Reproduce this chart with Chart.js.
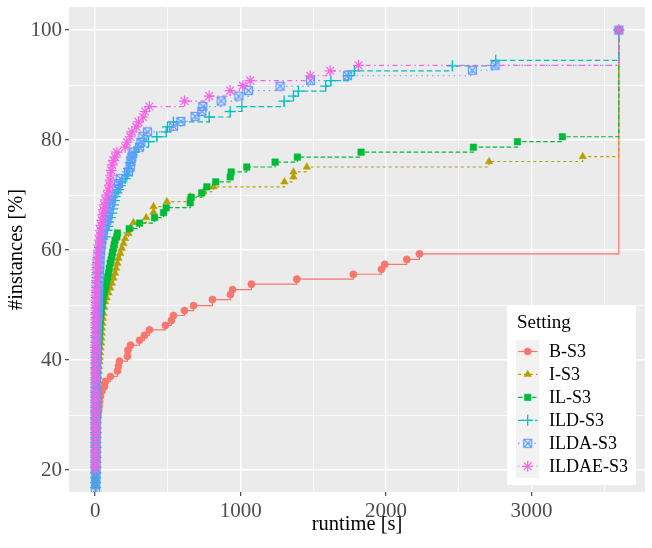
<!DOCTYPE html>
<html>
<head>
<meta charset="utf-8">
<script src="https://cdn.jsdelivr.net/npm/chart.js@4/dist/chart.umd.min.js"></script>
<style>
  html, body { margin: 0; padding: 0; background: #fff; }
  #chart { display: block; }
</style>
</head>
<body>
<canvas id="chart" width="652" height="548"></canvas>
<script>
// runtime [s], share of instances solved [%]
const settings = ['B-S3', 'I-S3', 'IL-S3', 'ILD-S3', 'ILDA-S3', 'ILDAE-S3'];

const bS3 = [
    [2, 23.6], [5, 24.5], [6, 25.4], [8, 26.3], [10, 27.2], [12, 28.1], [15, 29.0], [19, 29.9],
    [24, 30.8], [27, 31.6], [30, 32.5], [36, 33.4], [46, 34.3], [64, 35.2], [71, 36.1], [105, 37.0],
    [153, 38.0], [160, 38.9], [167, 39.8], [222, 40.7], [225, 41.8], [243, 42.7], [305, 43.6],
    [339, 44.5], [373, 45.5], [483, 46.3], [524, 47.2], [538, 48.1], [614, 49.0], [676, 49.9],
    [806, 51.0], [930, 51.9], [944, 52.8], [1074, 53.8], [1386, 54.7], [1775, 55.6], [1968, 56.5],
    [1991, 57.4], [2142, 58.3], [2229, 59.3], [3600, 100]
];

const iS3 = [
    [3, 18.2], [5, 19.0], [8, 19.9], [11, 20.8], [13, 21.7], [15, 22.6], [16, 23.5], [17, 24.4],
    [17, 25.3], [18, 26.2], [18, 27.1], [18, 28.0], [18, 28.9], [18, 29.8], [18, 30.7], [18, 31.6],
    [18, 32.5], [19, 33.4], [20, 34.3], [21, 35.2], [22, 36.1], [23, 37.0], [25, 37.9], [27, 38.8],
    [29, 39.7], [31, 40.5], [34, 41.3], [37, 42.2], [41, 43.1], [43, 44.0], [45, 44.9], [46, 45.8],
    [50, 46.7], [54, 47.6], [57, 48.5], [63, 49.6], [69, 50.6], [80, 51.3], [92, 52.2], [104, 53.1],
    [115, 54.0], [126, 54.9], [137, 55.8], [144, 56.7], [153, 57.6], [160, 58.5], [172, 59.4],
    [183, 60.3], [195, 61.2], [206, 62.1], [229, 63.0], [241, 63.9], [263, 65.0], [351, 65.9],
    [401, 66.9], [401, 67.9], [493, 68.8], [653, 69.7], [744, 70.6], [813, 71.5], [1301, 72.4],
    [1363, 73.3], [1363, 74.2], [1455, 75.1], [2708, 76.1], [3352, 77.0], [3600, 100]
];

const ilS3 = [
    [1, 17.3], [2, 18.2], [3, 19.1], [3, 20.0], [4, 20.9], [4, 21.8], [5, 22.7], [5, 23.6],
    [5, 24.5], [5, 25.5], [5, 26.4], [5, 27.3], [5, 28.2], [5, 29.1], [6, 30.0], [8, 30.9],
    [10, 31.8], [11, 32.7], [11, 33.6], [11, 34.5], [11, 35.5], [11, 36.4], [11, 37.3], [12, 38.2],
    [14, 39.1], [16, 40.0], [18, 40.9], [20, 41.8], [23, 42.7], [25, 43.6], [27, 44.5], [30, 45.5],
    [32, 46.4], [34, 47.3], [38, 48.2], [42, 49.1], [46, 49.9], [51, 50.8], [57, 51.6], [63, 52.4],
    [69, 53.1], [75, 53.7], [80, 54.4], [86, 55.1], [92, 55.8], [97, 56.7], [103, 57.6], [109, 58.2],
    [115, 58.9], [120, 59.6], [126, 60.3], [131, 61.0], [137, 61.8], [149, 62.4], [153, 63.1],
    [234, 63.9], [305, 64.9], [408, 65.9], [470, 66.8], [488, 67.7], [653, 68.6], [660, 69.6],
    [733, 70.4], [768, 71.5], [829, 72.4], [928, 73.3], [935, 74.2], [1042, 75.1], [1237, 76.0],
    [1390, 76.9], [1828, 77.8], [2600, 78.7], [2903, 79.7], [3212, 80.6], [3600, 100]
];

const ildS3 = [
    [3, 16.8], [3, 17.7], [4, 18.6], [4, 19.5], [4, 20.5], [4, 21.4], [4, 22.3], [4, 23.2],
    [4, 24.1], [4, 25.0], [4, 25.9], [4, 26.8], [4, 27.7], [4, 28.6], [4, 29.5], [4, 30.5],
    [5, 31.4], [5, 32.3], [5, 33.2], [5, 34.1], [5, 35.0], [5, 35.9], [5, 36.8], [5, 37.7],
    [5, 38.6], [5, 39.5], [5, 40.5], [5, 41.4], [5, 42.3], [6, 43.2], [6, 44.1], [6, 45.0],
    [6, 45.9], [6, 46.8], [6, 47.7], [7, 48.6], [7, 49.5], [8, 50.5], [8, 51.4], [9, 52.3],
    [10, 53.2], [11, 54.1], [12, 55.0], [14, 55.9], [15, 56.8], [17, 57.7], [20, 58.6], [23, 59.5],
    [30, 60.5], [40, 61.4], [52, 62.0], [69, 62.4], [80, 63.6], [86, 64.3], [92, 65.1], [103, 65.9],
    [115, 66.7], [120, 67.5], [126, 68.2], [132, 69.0], [137, 69.7], [149, 70.4], [160, 71.0],
    [172, 71.7], [183, 72.4], [206, 73.0], [218, 73.6], [224, 74.2], [229, 74.8], [240, 75.9],
    [252, 76.9], [268, 77.8], [298, 78.7], [367, 79.7], [424, 80.6], [488, 81.5], [497, 82.4],
    [538, 83.3], [784, 84.2], [928, 85.2], [1008, 86.1], [1299, 87.1], [1363, 88.0], [1397, 88.9],
    [1585, 89.8], [1620, 90.8], [1740, 91.7], [1782, 92.6], [2456, 93.5], [2754, 94.5], [3600, 100]
];

const ildaS3 = [
    [3, 16.4], [3, 17.3], [4, 18.2], [4, 19.1], [4, 20.0], [4, 20.9], [4, 21.8], [4, 22.7],
    [4, 23.6], [4, 24.5], [4, 25.5], [4, 26.4], [5, 27.3], [5, 28.2], [5, 29.1], [5, 30.0],
    [5, 30.9], [5, 31.8], [5, 32.7], [5, 33.6], [5, 34.5], [5, 35.5], [6, 36.4], [6, 37.3],
    [6, 38.2], [7, 39.1], [7, 40.0], [8, 40.9], [9, 41.8], [10, 42.7], [11, 43.6], [12, 44.5],
    [13, 45.5], [15, 46.4], [17, 47.3], [19, 48.2], [20, 49.1], [21, 50.0], [22, 50.9], [23, 51.8],
    [24, 52.7], [25, 53.6], [27, 54.5], [28, 55.5], [30, 56.4], [32, 57.3], [33, 58.2], [34, 59.1],
    [38, 60.0], [42, 60.9], [46, 61.8], [51, 62.7], [57, 63.6], [69, 64.5], [80, 65.4], [86, 66.2],
    [92, 67.0], [98, 67.9], [104, 68.5], [110, 69.1], [115, 70.0], [149, 71.2], [160, 72.1],
    [172, 73.0], [229, 74.2], [241, 75.1], [245, 76.1], [252, 76.9], [259, 77.8], [305, 78.7],
    [314, 79.6], [328, 80.7], [360, 81.5], [538, 82.5], [589, 83.4], [687, 84.3], [733, 85.2],
    [740, 86.1], [866, 87.1], [988, 88.0], [1054, 89.0], [1271, 89.8], [1480, 90.8], [1735, 91.7],
    [2593, 92.7], [2749, 93.6], [3600, 100]
];

const ildaeS3 = [
    [2, 20.0], [2, 20.9], [2, 21.8], [2, 22.7], [2, 23.6], [2, 24.5], [3, 25.5], [3, 26.4],
    [3, 27.3], [3, 28.2], [3, 29.1], [3, 30.0], [3, 30.9], [3, 31.8], [3, 32.7], [3, 33.6],
    [3, 34.5], [3, 35.5], [3, 36.4], [4, 37.3], [4, 38.2], [4, 39.1], [4, 40.0], [4, 40.9],
    [4, 41.8], [4, 42.7], [4, 43.6], [4, 44.5], [5, 45.5], [5, 46.4], [5, 47.3], [5, 48.2],
    [5, 49.1], [6, 50.0], [6, 50.9], [7, 51.8], [7, 52.7], [8, 53.6], [9, 54.5], [10, 55.5],
    [11, 56.4], [12, 57.3], [15, 58.2], [19, 59.1], [23, 60.0], [25, 60.9], [28, 61.8], [31, 62.7],
    [34, 63.6], [40, 64.5], [46, 65.4], [52, 66.4], [57, 67.3], [63, 68.2], [69, 69.1], [80, 70.0],
    [92, 70.9], [98, 71.8], [103, 72.7], [106, 73.6], [110, 74.5], [118, 75.5], [126, 76.3],
    [137, 76.9], [149, 77.8], [206, 78.7], [218, 79.6], [241, 80.6], [252, 81.5], [282, 82.4],
    [298, 83.3], [328, 84.2], [344, 85.2], [373, 86.1], [614, 87.1], [784, 88.0], [928, 89.0],
    [1015, 89.9], [1065, 90.8], [1478, 91.7], [1615, 92.6], [1810, 93.6], [3600, 100]
];

const xMajorTicks = [0, 1000, 2000, 3000];
const xMinorTicks = [500, 1500, 2500, 3500];
const yMajorTicks = [20, 40, 60, 80, 100];
const yMinorTicks = [30, 50, 70, 90];

const series = [bS3, iS3, ilS3, ildS3, ildaS3, ildaeS3];

const serif = 'Liberation Serif';

// square with a cross inside (ggplot shape 7)
const makeBoxCross = color => {
    const c = document.createElement('canvas');
    c.width = 11;
    c.height = 11;
    const g = c.getContext('2d');
    g.strokeStyle = color;
    g.lineWidth = 1.2;
    g.strokeRect(1.5, 1.5, 8, 8);
    g.beginPath();
    g.moveTo(1.5, 1.5);
    g.lineTo(9.5, 9.5);
    g.moveTo(9.5, 1.5);
    g.lineTo(1.5, 9.5);
    g.stroke();
    return c;
};

const styles = [
    { color: '#F8766D', dash: [], shape: 'circle', radius: 3.6, stroke: 0.5 },
    { color: '#B79F00', dash: [3, 3], shape: 'triangle', radius: 4.3, stroke: 0.5 },
    { color: '#00BA38', dash: [4.5, 2.5], shape: 'rect', radius: 4.6, stroke: 0.5 },
    { color: '#00BFC4', dash: [5.5, 3], shape: 'cross', radius: 5.5, stroke: 1.3 },
    { color: '#619CFF', dash: [1.4, 4], shape: makeBoxCross('#619CFF'), radius: 5, stroke: 1.2 },
    { color: '#F564E3', dash: [1.4, 3.5, 5, 3.5], shape: 'star', radius: 5.5, stroke: 1.2 }
];

const toXY = pts => pts.map(([x, y]) => ({ x, y }));

const lineSets = series.map((pts, i) => ({
    label: settings[i],
    data: toXY(pts),
    showLine: true,
    stepped: 'before',
    borderColor: styles[i].color,
    borderWidth: 1.2,
    borderDash: styles[i].dash,
    pointRadius: 0,
    pointHoverRadius: 0,
    order: 20 - i
}));

const pointSets = series.map((pts, i) => ({
    label: settings[i] + ' points',
    data: toXY(pts),
    showLine: false,
    pointStyle: styles[i].shape,
    pointRadius: styles[i].radius,
    pointHoverRadius: styles[i].radius,
    backgroundColor: styles[i].color,
    borderColor: styles[i].color,
    borderWidth: styles[i].stroke,
    order: 10 - i
}));

const panelBackground = {
    id: 'panelBackground',
    beforeDraw: chart => {
        const { ctx, chartArea: a } = chart;
        ctx.save();
        ctx.fillStyle = '#EBEBEB';
        ctx.fillRect(a.left, a.top, a.right - a.left, a.bottom - a.top);
        ctx.restore();
    }
};

const insideLegend = {
    id: 'insideLegend',
    afterDraw: chart => {
        const ctx = chart.ctx;
        ctx.save();
        ctx.fillStyle = '#fff';
        ctx.fillRect(507, 305, 129, 180);
        ctx.fillStyle = '#000';
        ctx.textBaseline = 'middle';
        ctx.font = `19px "${serif}"`;
        ctx.fillText('Setting', 517, 323);
        ctx.fillStyle = '#F2F2F2';
        ctx.fillRect(516, 340, 23.3, 138);
        settings.forEach((name, i) => {
            const st = styles[i];
            const y = 351.5 + i * 22.95;
            ctx.strokeStyle = st.color;
            ctx.lineWidth = 1.2;
            ctx.setLineDash(st.dash);
            ctx.beginPath();
            ctx.moveTo(518, y);
            ctx.lineTo(537.5, y);
            ctx.stroke();
            ctx.setLineDash([]);
            ctx.fillStyle = st.color;
            ctx.lineWidth = st.stroke;
            Chart.helpers.drawPoint(ctx, {
                pointStyle: st.shape, radius: st.radius, rotation: 0, borderWidth: st.stroke
            }, 527.7, y);
            ctx.fillStyle = '#000';
            ctx.font = `18px "${serif}"`;
            ctx.fillText(name, 549, y + 1);
        });
        ctx.restore();
    }
};

const gridOptions = majors => ({
    color: '#fff',
    lineWidth: c => (c.tick && majors.includes(c.tick.value)) ? 1.4 : 0.7,
    tickLength: 4,
    tickWidth: 1.1,
    tickColor: c => (c.tick && majors.includes(c.tick.value)) ? '#333' : 'rgba(0,0,0,0)'
});

const tickFont = { family: serif, size: 21 };
const titleFont = { family: serif, size: 20.5 };

new Chart(document.getElementById('chart'), {
    type: 'scatter',
    data: { datasets: [...lineSets, ...pointSets] },
    options: {
        responsive: false,
        animation: false,
        events: [],
        layout: { padding: { top: 7, right: 7, left: 0, bottom: 0 } },
        scales: {
            x: {
                type: 'linear',
                min: -180,
                max: 3780,
                bounds: 'data',
                afterBuildTicks: s => {
                    s.ticks = [...xMajorTicks, ...xMinorTicks].sort((a, b) => a - b).map(value => ({ value }));
                },
                afterFit: s => {
                    s.height = 56;
                    s.paddingLeft = 0;
                    s.paddingRight = 0;
                },
                ticks: {
                    autoSkip: false,
                    maxRotation: 0,
                    padding: 3,
                    color: '#4D4D4D',
                    font: tickFont,
                    callback: v => xMajorTicks.includes(v) ? String(v) : ''
                },
                grid: gridOptions(xMajorTicks),
                border: { display: false },
                title: {
                    display: true,
                    text: 'runtime [s]',
                    color: '#000',
                    font: titleFont,
                    padding: { top: 0, bottom: 11 }
                }
            },
            y: {
                type: 'linear',
                min: 16,
                max: 104.2,
                bounds: 'data',
                afterBuildTicks: s => {
                    s.ticks = [...yMajorTicks, ...yMinorTicks].sort((a, b) => a - b).map(value => ({ value }));
                },
                afterFit: s => {
                    s.width = 69;
                    s.paddingTop = 0;
                    s.paddingBottom = 0;
                },
                ticks: {
                    autoSkip: false,
                    padding: 3,
                    color: '#4D4D4D',
                    font: tickFont,
                    callback: v => yMajorTicks.includes(v) ? String(v) : ''
                },
                grid: gridOptions(yMajorTicks),
                border: { display: false },
                title: {
                    display: true,
                    text: '#instances [%]',
                    color: '#000',
                    font: titleFont,
                    padding: { top: 4, bottom: 0 }
                }
            }
        },
        plugins: {
            legend: { display: false },
            tooltip: { enabled: false }
        }
    },
    plugins: [panelBackground, insideLegend]
});
</script>
</body>
</html>
